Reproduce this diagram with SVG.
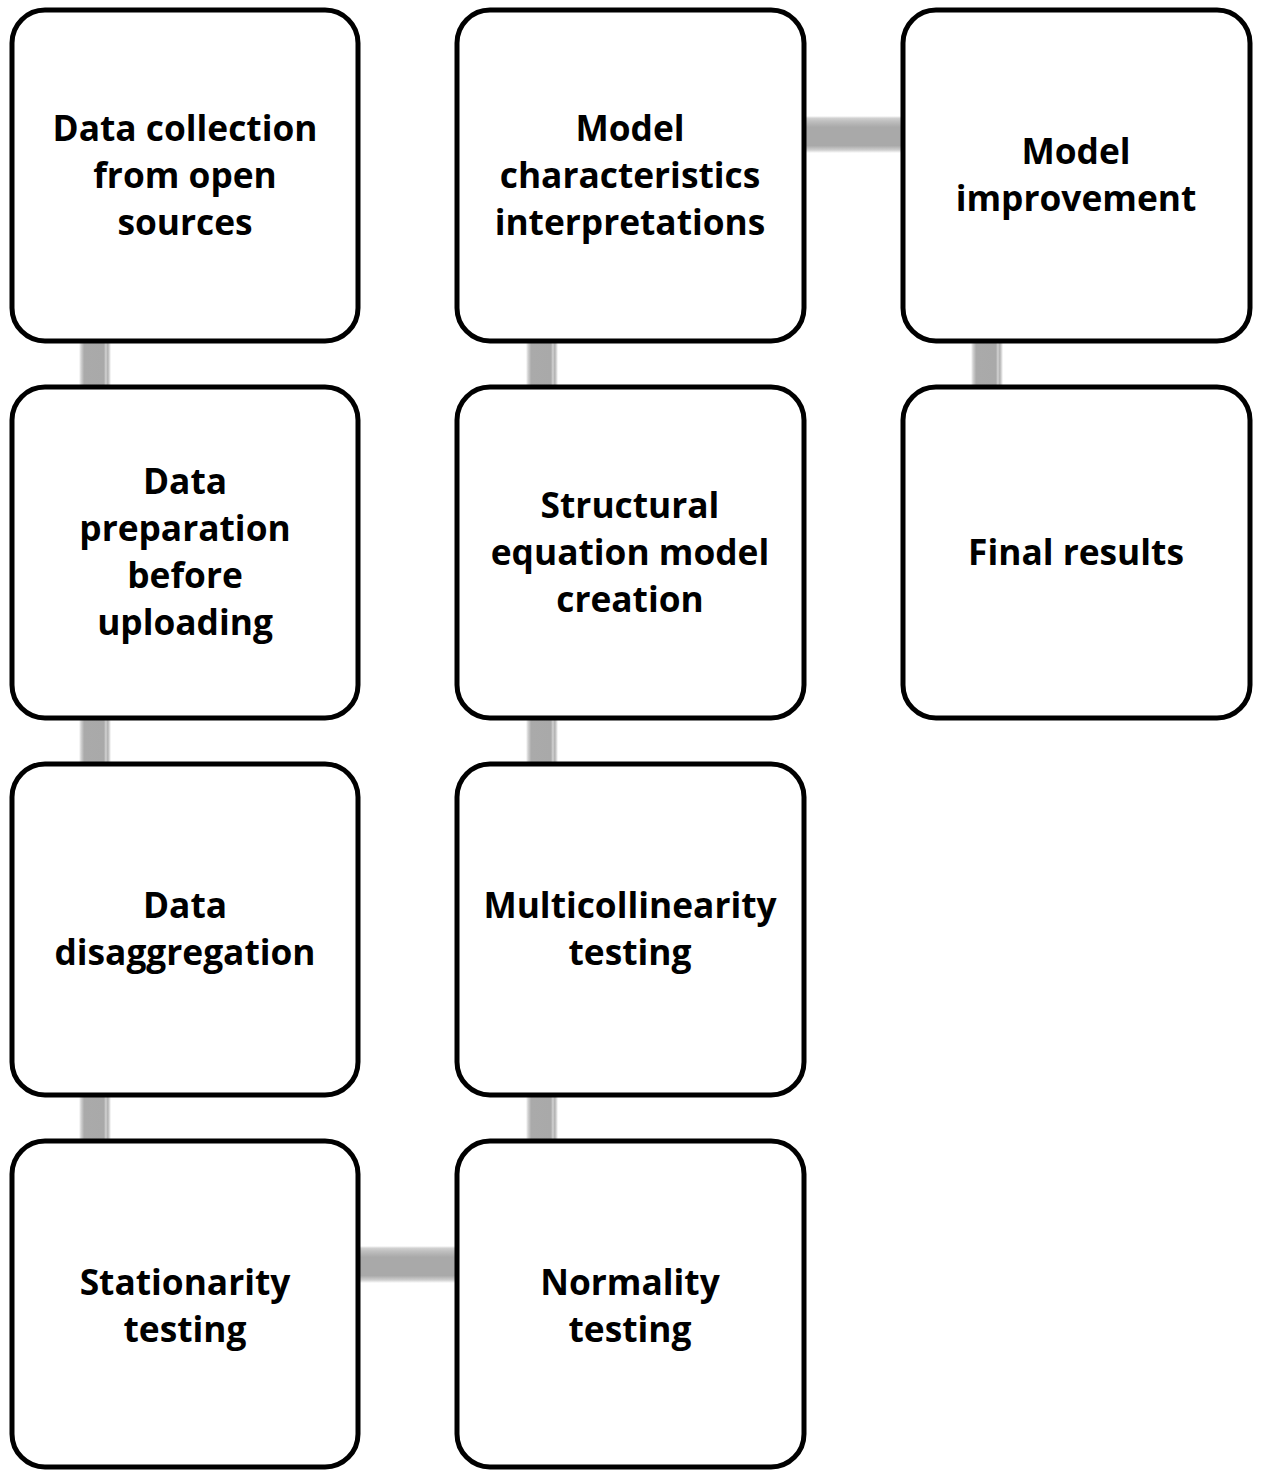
<svg xmlns="http://www.w3.org/2000/svg" width="1261" height="1470" viewBox="0 0 1261 1470">
<defs>
<linearGradient id="gv" x1="0" y1="0" x2="1" y2="0">
<stop offset="0" stop-color="#ffffff"/>
<stop offset="0.06" stop-color="#d4d4d4"/>
<stop offset="0.16" stop-color="#aaaaaa"/>
<stop offset="0.78" stop-color="#a9a9a9"/>
<stop offset="0.84" stop-color="#d2d2d2"/>
<stop offset="0.9" stop-color="#b0b0b0"/>
<stop offset="0.96" stop-color="#dedede"/>
<stop offset="1" stop-color="#ffffff"/>
</linearGradient>
<linearGradient id="gh" x1="0" y1="0" x2="0" y2="1">
<stop offset="0" stop-color="#ffffff"/>
<stop offset="0.06" stop-color="#d0d0d0"/>
<stop offset="0.14" stop-color="#bfbfbf"/>
<stop offset="0.3" stop-color="#a9a9a9"/>
<stop offset="0.8" stop-color="#a9a9a9"/>
<stop offset="0.92" stop-color="#cfcfcf"/>
<stop offset="1" stop-color="#ffffff"/>
</linearGradient>
</defs>
<style>
.box{fill:#ffffff;stroke:#000000;stroke-width:5}
.t{font-family:"Open Sans","Liberation Sans",sans-serif;font-weight:bold;font-size:35.3px;fill:#000000;text-anchor:middle}
.cv{fill:url(#gv)}
.ch{fill:url(#gh)}
</style>
<g id="connectors">
<rect class="cv" x="79" y="341" width="32" height="48"/>
<rect class="cv" x="79" y="718" width="32" height="48"/>
<rect class="cv" x="79" y="1095" width="32" height="47"/>
<rect class="ch" x="358" y="1246" width="100" height="37"/>
<rect class="cv" x="526" y="1095" width="32" height="47"/>
<rect class="cv" x="526" y="718" width="32" height="48"/>
<rect class="cv" x="526" y="341" width="32" height="48"/>
<rect class="ch" x="804" y="116" width="100" height="37"/>
<rect class="cv" x="971" y="341" width="32" height="48"/>
</g>
<g id="n1">
<rect class="box" x="12" y="10" width="346" height="331" rx="33"/>
<text class="t"><tspan x="185" y="141">Data collection</tspan><tspan x="185" y="188">from open</tspan><tspan x="185" y="235">sources</tspan></text>
</g>
<g id="n2">
<rect class="box" x="12" y="387" width="346" height="331" rx="33"/>
<text class="t"><tspan x="185" y="494">Data</tspan><tspan x="185" y="541">preparation</tspan><tspan x="185" y="588">before</tspan><tspan x="185" y="635">uploading</tspan></text>
</g>
<g id="n3">
<rect class="box" x="12" y="764" width="346" height="331" rx="33"/>
<text class="t"><tspan x="185" y="918">Data</tspan><tspan x="185" y="965">disaggregation</tspan></text>
</g>
<g id="n4">
<rect class="box" x="12" y="1141" width="346" height="326" rx="33"/>
<text class="t"><tspan x="185" y="1295">Stationarity</tspan><tspan x="185" y="1342">testing</tspan></text>
</g>
<g id="n5">
<rect class="box" x="457" y="1141" width="347" height="326" rx="33"/>
<text class="t"><tspan x="630" y="1295">Normality</tspan><tspan x="630" y="1342">testing</tspan></text>
</g>
<g id="n6">
<rect class="box" x="457" y="764" width="347" height="331" rx="33"/>
<text class="t"><tspan x="630" y="918">Multicollinearity</tspan><tspan x="630" y="965">testing</tspan></text>
</g>
<g id="n7">
<rect class="box" x="457" y="387" width="347" height="331" rx="33"/>
<text class="t"><tspan x="630" y="518">Structural</tspan><tspan x="630" y="565">equation model</tspan><tspan x="630" y="612">creation</tspan></text>
</g>
<g id="n8">
<rect class="box" x="457" y="10" width="347" height="331" rx="33"/>
<text class="t"><tspan x="630" y="141">Model</tspan><tspan x="630" y="188">characteristics</tspan><tspan x="630" y="235">interpretations</tspan></text>
</g>
<g id="n9">
<rect class="box" x="903" y="10" width="347" height="331" rx="33"/>
<text class="t"><tspan x="1076" y="164">Model</tspan><tspan x="1076" y="211">improvement</tspan></text>
</g>
<g id="n10">
<rect class="box" x="903" y="387" width="347" height="331" rx="33"/>
<text class="t"><tspan x="1076" y="565">Final results</tspan></text>
</g>
</svg>
